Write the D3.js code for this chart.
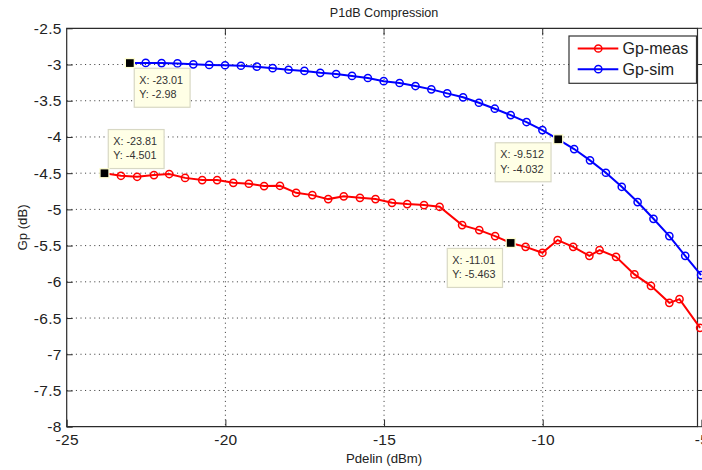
<!DOCTYPE html>
<html>
<head>
<meta charset="utf-8">
<script src="https://cdn.jsdelivr.net/npm/d3@7"></script>
<style>
  html, body { margin: 0; padding: 0; background: #fff; }
  svg { display: block; font-family: "Liberation Sans", Arial, sans-serif; }
</style>
</head>
<body>
<svg id="chart" width="702" height="470"></svg>
<script>
// ---- data ----
const seriesNames = ["Gp-meas", "Gp-sim"];

const measX = [-23.81, -23.29, -22.78, -22.25, -21.77, -21.27, -20.73, -20.26, -19.75, -19.26,
               -18.78, -18.28, -17.77, -17.26, -16.76, -16.27, -15.76, -15.27, -14.75, -14.27,
               -13.74, -13.25, -12.54, -12.00, -11.50, -11.01, -10.54, -10.01, -9.53, -9.04,
               -8.53, -8.21, -7.69, -7.11, -6.59, -6.01, -5.69, -5.04];
const measY = [-4.501, -4.536, -4.550, -4.526, -4.512, -4.565, -4.595, -4.595, -4.633, -4.646,
               -4.678, -4.674, -4.771, -4.803, -4.858, -4.820, -4.840, -4.858, -4.909, -4.927,
               -4.941, -4.964, -5.217, -5.286, -5.369, -5.463, -5.517, -5.599, -5.424, -5.517,
               -5.641, -5.562, -5.655, -5.898, -6.055, -6.290, -6.239, -6.635];

const simX = [-23.01, -22.51, -22.01, -21.51, -21.01, -20.51, -20.01, -19.51, -19.01, -18.51,
              -18.01, -17.51, -17.01, -16.51, -16.01, -15.51, -15.01, -14.51, -14.01, -13.51,
              -13.01, -12.51, -12.01, -11.51, -11.01, -10.51, -10.01, -9.512, -9.01, -8.51,
              -8.01, -7.51, -7.01, -6.51, -6.01, -5.51, -5.01];
const simY = [-2.980, -2.978, -2.980, -2.985, -2.997, -3.005, -3.010, -3.017, -3.030, -3.050,
              -3.072, -3.088, -3.115, -3.131, -3.157, -3.186, -3.230, -3.255, -3.297, -3.343,
              -3.398, -3.453, -3.528, -3.610, -3.698, -3.794, -3.905, -4.032, -4.167, -4.323,
              -4.494, -4.688, -4.899, -5.130, -5.369, -5.641, -5.907];

const xTicks = [-25, -20, -15, -10, -5];
const yTicks = [-2.5, -3, -3.5, -4, -4.5, -5, -5.5, -6, -6.5, -7, -7.5, -8];

// data cursors: [x, y]
const tipX = [-23.01, -23.81, -9.512, -11.01];
const tipY = [-2.98, -4.501, -4.032, -5.463];

// ---- layout ----
const L = 66.7, R = 701.4, T = 28.3, B = 426.7;
const frameR = 697.5;
const colors = ["#ff0000", "#0000ff"];

const svg = d3.select("#chart");
const x = d3.scaleLinear().domain([-25, -5]).range([L, R]);
const y = d3.scaleLinear().domain([-8, -2.5]).range([B, T]);

// grid
const grid = svg.append("g").attr("stroke", "#333").attr("stroke-width", 1)
  .attr("stroke-dasharray", "1,3.6");
grid.selectAll("line.gx").data(xTicks.slice(1, -1)).join("line")
  .attr("x1", d => x(d)).attr("x2", d => x(d)).attr("y1", T).attr("y2", B);
grid.selectAll("line.gy").data(yTicks.slice(1, -1)).join("line")
  .attr("x1", L).attr("x2", frameR).attr("y1", d => y(d)).attr("y2", d => y(d));

// frame
svg.append("path")
  .attr("d", `M${L},${T}H${frameR}V${B}H${L}Z`)
  .attr("fill", "none").attr("stroke", "#2b2b2b").attr("stroke-width", 1.2);

// axes
const fmt = d => String(d);
const xAxis = svg.append("g").attr("transform", `translate(0,${B})`)
  .call(d3.axisBottom(x).tickValues(xTicks).tickFormat(fmt).tickSizeInner(-7).tickSizeOuter(0).tickPadding(7));
const yAxis = svg.append("g").attr("transform", `translate(${L},0)`)
  .call(d3.axisLeft(y).tickValues(yTicks).tickFormat(fmt).tickSizeInner(-6).tickSizeOuter(0).tickPadding(5));
[xAxis, yAxis].forEach(g => {
  g.select(".domain").remove();
  g.selectAll(".tick line").attr("stroke", "#2b2b2b");
  g.selectAll(".tick text").attr("fill", "#222").style("font-size", "15.5px")
    .style("font-family", '"Liberation Sans", Arial, sans-serif').style("letter-spacing", "0.3px");
});
// top and right tick marks
svg.append("g").selectAll("line").data(xTicks.slice(1, -1)).join("line")
  .attr("x1", d => x(d)).attr("x2", d => x(d)).attr("y1", T).attr("y2", T + 7)
  .attr("stroke", "#2b2b2b");
svg.append("g").selectAll("line").data(yTicks).join("line")
  .attr("x1", frameR).attr("x2", frameR + 5).attr("y1", d => y(d)).attr("y2", d => y(d))
  .attr("stroke", "#2b2b2b");

// series
const series = [d3.zip(measX, measY), d3.zip(simX, simY)];
const line = d3.line().x(d => x(d[0])).y(d => y(d[1]));
const plot = svg.append("g");
series.forEach((pts, i) => {
  plot.append("path").attr("d", line(pts)).attr("fill", "none")
    .attr("stroke", colors[i]).attr("stroke-width", 2);
  plot.append("g").selectAll("circle").data(pts).join("circle")
    .attr("cx", d => x(d[0])).attr("cy", d => y(d[1])).attr("r", 3.6)
    .attr("fill", "none").attr("stroke", colors[i]).attr("stroke-width", 1.5);
});

// data cursor boxes (offset of the box from its point)
const tipOffset = [[4.4, 5.2], [3.8, -43.7], [-63, 3.5], [-63.4, 5.5]];
const tips = svg.append("g");
tipX.forEach((tx, i) => {
  const px = x(tx), py = y(tipY[i]);
  const bx = px + tipOffset[i][0], by = py + tipOffset[i][1];
  const g = tips.append("g");
  const rect = g.append("rect").attr("x", bx).attr("y", by).attr("height", 39)
    .attr("fill", "#ffffe6").attr("stroke", "#d8d8c4").attr("stroke-width", 1.2);
  const t1 = g.append("text").attr("x", bx + 5).attr("y", by + 15.5).text(`X: ${tx}`);
  const t2 = g.append("text").attr("x", bx + 5).attr("y", by + 29.8).text(`Y: ${tipY[i]}`);
  g.selectAll("text").attr("fill", "#333").style("font-size", "10.8px");
  const w = Math.max(t1.node().getComputedTextLength(), t2.node().getComputedTextLength());
  rect.attr("width", w + 12);
  tips.append("rect").attr("x", px - 4.5).attr("y", py - 4.5).attr("width", 9).attr("height", 9)
    .attr("fill", "#000").attr("stroke", "#ffffd0").attr("stroke-width", 1.3);
});

// title and axis labels
svg.append("text").attr("x", (L + R) / 2).attr("y", 16.5).attr("text-anchor", "middle")
  .style("font-size", "12.6px").attr("fill", "#222").text("P1dB Compression");
svg.append("text").attr("x", (L + R) / 2).attr("y", 463).attr("text-anchor", "middle")
  .style("font-size", "13.2px").attr("fill", "#222").text("Pdelin (dBm)");
svg.append("text").attr("transform", `translate(26.5,${(T + B) / 2}) rotate(-90)`)
  .attr("text-anchor", "middle").style("font-size", "13.2px").attr("fill", "#222").text("Gp (dB)");

// legend
const lg = svg.append("g");
lg.append("rect").attr("x", 569).attr("y", 36).attr("width", 127.5).attr("height", 47.3)
  .attr("fill", "#fff").attr("stroke", "#333").attr("stroke-width", 1.2);
seriesNames.forEach((name, i) => {
  const ly = 48.5 + i * 20.7;
  lg.append("line").attr("x1", 577.7).attr("x2", 618.3).attr("y1", ly).attr("y2", ly)
    .attr("stroke", colors[i]).attr("stroke-width", 2);
  lg.append("circle").attr("cx", 598.3).attr("cy", ly).attr("r", 3.6)
    .attr("fill", "none").attr("stroke", colors[i]).attr("stroke-width", 1.5);
  lg.append("text").attr("x", 622.5).attr("y", ly + 5.5).style("font-size", "16px")
    .attr("fill", "#222").text(name);
});
</script>
</body>
</html>
